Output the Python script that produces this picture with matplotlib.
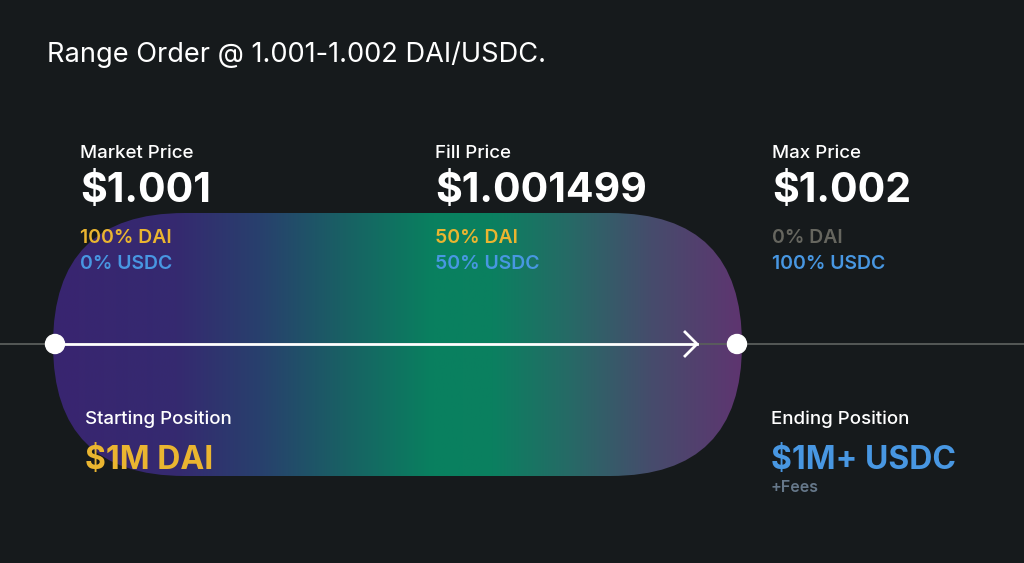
import numpy as np
import matplotlib.pyplot as plt
from matplotlib.colors import LinearSegmentedColormap
from matplotlib.patches import FancyBboxPatch, Circle

# ---------------------------------------------------------
# DATA
# ---------------------------------------------------------
TITLE = "Range Order @ 1.001-1.002 DAI/USDC."
PRICE_LABELS = ["Market Price", "Fill Price", "Max Price"]
PRICE_VALUES = ["$1.001", "$1.001499", "$1.002"]
DAI_SHARE = [100, 50, 0]
USDC_SHARE = [0, 50, 100]
POSITION_LABELS = ["Starting Position", "Ending Position"]
POSITION_VALUES = ["$1M DAI", "$1M+ USDC"]
POSITION_NOTE = "+Fees"

# ---------------------------------------------------------
# STYLE
# ---------------------------------------------------------
BG = "#161a1c"
GOLD = "#eab530"
BLUE = "#4897e2"
GREY = "#66665f"
FEES = "#66788a"
FONT = "Inter"

GRAD_STOPS = [
    (0.00, "#392570"), (0.18, "#352a70"), (0.30, "#28406d"),
    (0.42, "#196064"), (0.55, "#09805f"), (0.64, "#0b8060"),
    (0.75, "#266a66"), (0.87, "#464c6c"), (1.00, "#5e3570"),
]

fig = plt.figure(figsize=(10.24, 5.63), dpi=100, facecolor=BG)
ax = fig.add_axes([0, 0, 1, 1])
ax.set_facecolor(BG)
ax.set_xlim(0, 1024)
ax.set_ylim(563, 0)
ax.axis("off")

# pill with horizontal gradient
pill_x0, pill_x1, pill_y0, pill_y1 = 53, 742, 213, 476
radius = (pill_y1 - pill_y0) / 2
cmap = LinearSegmentedColormap.from_list("pill", GRAD_STOPS)
grad = np.linspace(0, 1, 512).reshape(1, -1)
im = ax.imshow(grad, cmap=cmap, extent=(pill_x0, pill_x1, pill_y1, pill_y0),
               aspect="auto", interpolation="bicubic", zorder=1)
pill = FancyBboxPatch((pill_x0, pill_y0), pill_x1 - pill_x0, pill_y1 - pill_y0,
                      boxstyle=f"round,pad=0,rounding_size={radius}",
                      facecolor="none", edgecolor="none", transform=ax.transData)
ax.add_patch(pill)
im.set_clip_path(pill)
ax.set_xlim(0, 1024)
ax.set_ylim(563, 0)

# price axis line, arrow and end dots
line_y = 344
ax.plot([0, 1024], [line_y, line_y], color="#5a5e5c", lw=1.3, zorder=2)
start_x, end_x, arrow_x = 55, 737, 697
ax.plot([start_x, arrow_x], [line_y, line_y], color="white", lw=2, zorder=3)
ax.plot([arrow_x - 12, arrow_x, arrow_x - 12], [line_y - 12, line_y, line_y + 12],
        color="white", lw=2, zorder=3, solid_joinstyle="miter")
for cx in (start_x, end_x):
    ax.add_patch(Circle((cx, line_y), 9.5, color="white", zorder=4))

# title
ax.text(47, 55, TITLE, color="white", fontsize=19.6, family=FONT,
        va="center", ha="left")

# price columns
col_x = [80, 435, 772]
for i, x in enumerate(col_x):
    ax.text(x, 153, PRICE_LABELS[i], color="white", fontsize=13.5, family=FONT,
            fontweight="medium", va="center")
    ax.text(x, 191, PRICE_VALUES[i], color="white", fontsize=29.5, family=FONT,
            fontweight="bold", va="center")
    ax.text(x, 238, f"{DAI_SHARE[i]}% DAI", color=GOLD if DAI_SHARE[i] else GREY,
            fontsize=14, family=FONT, fontweight="semibold", va="center")
    ax.text(x, 264, f"{USDC_SHARE[i]}% USDC", color=BLUE, fontsize=14,
            family=FONT, fontweight="semibold", va="center")

# positions
pos_x = [85, 771]
pos_colors = [GOLD, BLUE]
for i, x in enumerate(pos_x):
    ax.text(x, 419, POSITION_LABELS[i], color="white", fontsize=13.5,
            family=FONT, fontweight="medium", va="center")
    ax.text(x, 460, POSITION_VALUES[i], color=pos_colors[i], fontsize=23,
            family=FONT, fontweight="bold", va="center")
ax.text(pos_x[1], 487, POSITION_NOTE, color=FEES, fontsize=11.5, family=FONT,
        fontweight="semibold", va="center")

fig.savefig("out.png", dpi=100, facecolor=BG)
